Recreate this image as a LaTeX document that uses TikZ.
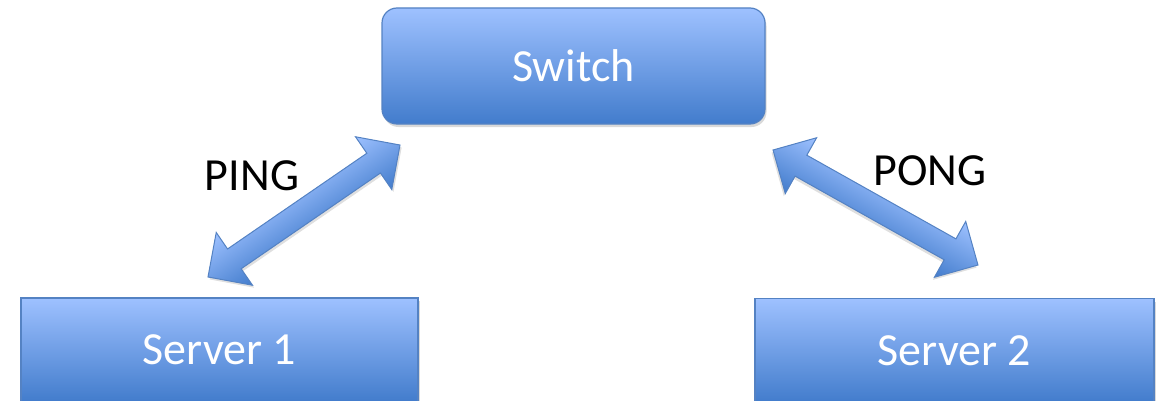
\documentclass[tikz,border=0pt]{standalone}
\usepackage{fontspec}
\setmainfont{Carlito}
\usetikzlibrary{shadows}
\definecolor{topblue}{RGB}{158,193,255}
\definecolor{botblue}{RGB}{66,124,204}
\definecolor{edgeblue}{RGB}{84,130,195}
\tikzset{
  box/.style={draw=edgeblue, line width=1.2pt, top color=topblue, bottom color=botblue,
    text=white, font=\fontsize{46}{50}\selectfont, inner sep=0pt,
    drop shadow={opacity=0.3, shadow xshift=1.5pt, shadow yshift=-3pt}},
  blockarrow/.style={draw=edgeblue, line width=1pt, top color=topblue,
    bottom color=botblue, line join=miter,
    drop shadow={opacity=0.25, shadow xshift=0pt, shadow yshift=-3pt}},
  lbl/.style={font=\fontsize{46}{50}\selectfont, text=black, inner sep=0pt}
}
\newcommand{\blockarrowshape}[1]{%
  \path[blockarrow] (-#1/2,0) -- (-#1/2+32,32) -- (-#1/2+32,12) -- (#1/2-32,12)
    -- (#1/2-32,32) -- (#1/2,0) -- (#1/2-32,-32) -- (#1/2-32,-12)
    -- (-#1/2+32,-12) -- (-#1/2+32,-32) -- cycle;}
\begin{document}
\begin{tikzpicture}[x=1pt,y=1pt]
\useasboundingbox (0,0) rectangle (1161,400);
\node[box, rounded corners=15pt, minimum width=383pt, minimum height=116pt] (switch) at (573.5,334) {Switch};
\node[box, minimum width=397pt, minimum height=104pt] (s1) at (219.5,50) {Server 1};
\node[box, minimum width=399pt, minimum height=104pt] (s2) at (954.5,49.5) {Server 2};
\begin{scope}[transform canvas={shift={(304,189)}, rotate=34.5}]
  \blockarrowshape{233}
\end{scope}
\begin{scope}[transform canvas={shift={(875.5,192.5)}, rotate=-29.3}]
  \blockarrowshape{235}
\end{scope}
\node[lbl] (ping) at (252,224) {PING};
\node[lbl] (pong) at (930,229) {PONG};
\end{tikzpicture}
\end{document}
